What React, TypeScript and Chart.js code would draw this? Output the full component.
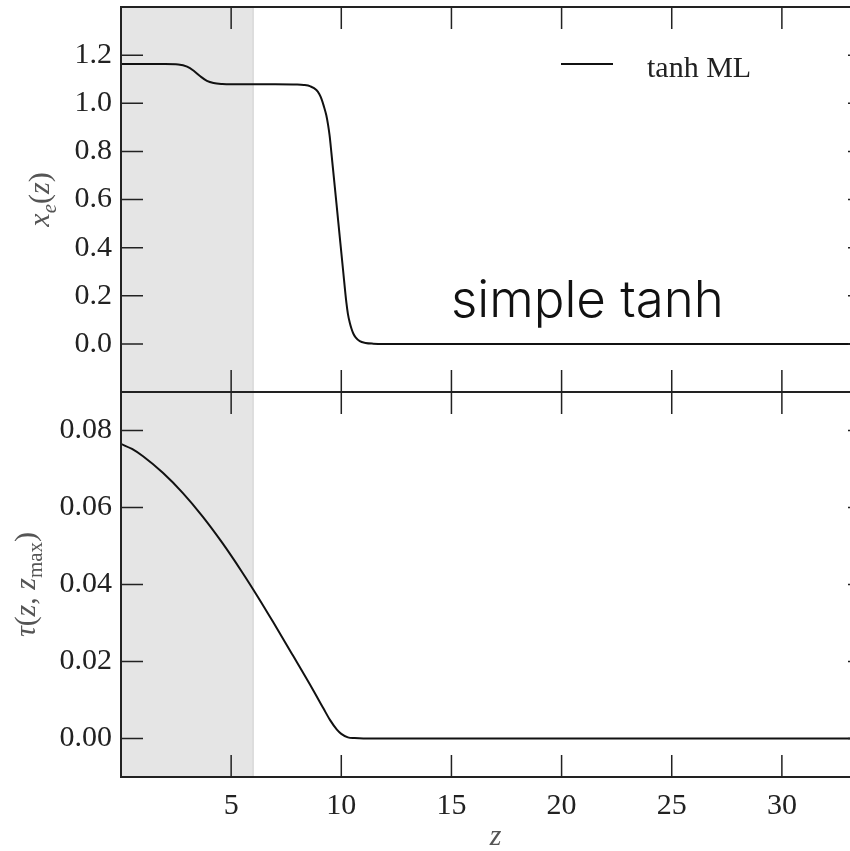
import React, { useEffect, useRef } from "react";
import { Chart, registerables } from "chart.js";

Chart.register(...registerables);

// ---- data ----
const zTop = [0, 1, 2, 2.6, 3.0, 3.3, 3.6, 3.9, 4.2, 4.6, 5, 6, 7, 8, 8.3, 8.6, 8.87, 9.0, 9.1, 9.2, 9.32, 9.4, 9.47, 9.55, 9.62, 9.78, 9.93, 10.08, 10.23, 10.3, 10.38, 10.46, 10.55, 10.65, 10.84, 11.1, 11.44, 12, 15, 20, 25, 30, 34];
const xeTop = [1.163, 1.163, 1.163, 1.161, 1.152, 1.135, 1.112, 1.093, 1.084, 1.08, 1.079, 1.079, 1.079, 1.078, 1.076, 1.07, 1.055, 1.038, 1.018, 0.99, 0.95, 0.91, 0.865, 0.795, 0.73, 0.584, 0.445, 0.307, 0.172, 0.125, 0.09, 0.064, 0.042, 0.027, 0.011, 0.004, 0.001, 0, 0, 0, 0, 0, 0];

const zTau = [0, 0.5, 1, 1.9, 2.8, 3.7, 4.6, 5.5, 6.2, 6.9, 7.8, 8.7, 9.2, 9.5, 9.8, 10.0, 10.3, 10.6, 11, 12, 15, 20, 25, 30, 34];
const tauVals = [0.0765, 0.0752, 0.0733, 0.069, 0.0638, 0.0577, 0.0508, 0.0432, 0.0369, 0.0303, 0.0216, 0.0128, 0.0077, 0.0047, 0.0023, 0.0012, 0.0003, 0.0001, 0, 0, 0, 0, 0, 0, 0];

const xTicks = [5, 10, 15, 20, 25, 30];
const yTopTicks = [0, 0.2, 0.4, 0.6, 0.8, 1.0, 1.2];
const yBotTicks = [0, 0.02, 0.04, 0.06, 0.08];
const shadeRange = [0, 6];
const seriesLabel = "tanh ML";
const annotation = "simple tanh";

const SERIF = '"Liberation Serif", "DejaVu Serif", serif';
const TICK_COLOR = "#222";
const TITLE_COLOR = "#555";

type Run = { t: string; it?: boolean; sub?: boolean };

function drawRuns(ctx: CanvasRenderingContext2D, runs: Run[], cx: number, cy: number, size: number, rotate: boolean) {
  const fontFor = (r: Run) => `${r.it ? "italic " : ""}${r.sub ? Math.round(size * 0.7) : size}px ${SERIF}`;
  const widths = runs.map((r) => {
    ctx.font = fontFor(r);
    return ctx.measureText(r.t).width;
  });
  const total = widths.reduce((a, b) => a + b, 0);
  ctx.save();
  ctx.translate(cx, cy);
  if (rotate) ctx.rotate(-Math.PI / 2);
  ctx.fillStyle = TITLE_COLOR;
  ctx.textBaseline = "alphabetic";
  ctx.textAlign = "left";
  let x = -total / 2;
  runs.forEach((r, i) => {
    ctx.font = fontFor(r);
    ctx.fillText(r.t, x, size * 0.3 + (r.sub ? size * 0.22 : 0));
    x += widths[i];
  });
  ctx.restore();
}

const framePlugin = {
  id: "framePlugin",
  beforeDatasetsDraw(chart: any) {
    const { ctx, chartArea } = chart;
    const xs = chart.scales.x;
    const x0 = xs.getPixelForValue(shadeRange[0]);
    const x1 = xs.getPixelForValue(shadeRange[1]);
    ctx.save();
    ctx.fillStyle = "#e5e5e5";
    ctx.fillRect(x0, chartArea.top, x1 - x0, chartArea.bottom - chartArea.top);
    ctx.strokeStyle = "#cfcfcf";
    ctx.lineWidth = 1;
    ctx.beginPath();
    ctx.moveTo(x1, chartArea.top);
    ctx.lineTo(x1, chartArea.bottom);
    ctx.stroke();
    ctx.restore();
  },
  afterDraw(chart: any) {
    const { ctx, chartArea } = chart;
    const xs = chart.scales.x;
    const panels = [
      { s: chart.scales.yTop, ticks: yTopTicks },
      { s: chart.scales.yBot, ticks: yBotTicks },
    ];
    const TL = 22;
    ctx.save();
    ctx.strokeStyle = "#222";
    panels.forEach((p) => {
      const top = p.s.top;
      const bottom = p.s.bottom;
      ctx.lineWidth = 1.5;
      ctx.beginPath();
      xTicks.forEach((v) => {
        const px = xs.getPixelForValue(v);
        ctx.moveTo(px, top);
        ctx.lineTo(px, top + TL);
        ctx.moveTo(px, bottom);
        ctx.lineTo(px, bottom - TL);
      });
      p.ticks.forEach((v) => {
        const py = p.s.getPixelForValue(v);
        ctx.moveTo(chartArea.left, py);
        ctx.lineTo(chartArea.left + TL, py);
        ctx.moveTo(chartArea.right, py);
        ctx.lineTo(chartArea.right - TL, py);
      });
      ctx.stroke();
      ctx.lineWidth = 2;
      ctx.strokeRect(chartArea.left, top, chartArea.right - chartArea.left, bottom - top);
    });
    ctx.restore();

    // axis titles
    drawRuns(ctx, [{ t: "x", it: true }, { t: "e", it: true, sub: true }, { t: "(" }, { t: "z", it: true }, { t: ")" }], 40, (chart.scales.yTop.top + chart.scales.yTop.bottom) / 2, 30, true);
    drawRuns(ctx, [{ t: "τ", it: true }, { t: "(" }, { t: "z", it: true }, { t: ", " }, { t: "z", it: true }, { t: "max", sub: true }, { t: ")" }], 26, (chart.scales.yBot.top + chart.scales.yBot.bottom) / 2, 30, true);
    drawRuns(ctx, [{ t: "z", it: true }], (chartArea.left + chartArea.right) / 2, 836, 30, false);

    // legend
    ctx.save();
    ctx.strokeStyle = "#111";
    ctx.lineWidth = 2;
    ctx.beginPath();
    ctx.moveTo(561, 64);
    ctx.lineTo(613, 64);
    ctx.stroke();
    ctx.fillStyle = "#222";
    ctx.font = `30px ${SERIF}`;
    ctx.textBaseline = "alphabetic";
    ctx.textAlign = "left";
    ctx.fillText(seriesLabel, 647, 77);

    // annotation
    ctx.font = '300 51px Inter, "Liberation Sans", sans-serif';
    ctx.fillStyle = "#111";
    ctx.fillText(annotation, 451, 317);
    ctx.restore();
  },
};

export default function App() {
  const ref = useRef<HTMLCanvasElement | null>(null);
  useEffect(() => {
    if (!ref.current) return;
    const tickFont = { family: SERIF, size: 30 };
    const yFit = (s: any) => {
      s.width = 121;
      s.paddingTop = 0;
      s.paddingBottom = 0;
    };
    const chart = new Chart(ref.current, {
      type: "line",
      data: {
        datasets: [
          {
            label: seriesLabel,
            data: zTop.map((z, i) => ({ x: z, y: xeTop[i] })),
            yAxisID: "yTop",
            borderColor: "#111",
            borderWidth: 2,
            pointRadius: 0,
            cubicInterpolationMode: "monotone",
            fill: false,
          },
          {
            label: "tau",
            data: zTau.map((z, i) => ({ x: z, y: tauVals[i] })),
            yAxisID: "yBot",
            borderColor: "#111",
            borderWidth: 2,
            pointRadius: 0,
            cubicInterpolationMode: "monotone",
            fill: false,
          },
        ],
      },
      options: {
        animation: false,
        responsive: false,
        layout: { padding: { top: 7, right: 10, left: 0, bottom: 0 } },
        plugins: { legend: { display: false }, tooltip: { enabled: false } },
        scales: {
          x: {
            type: "linear",
            min: 0,
            max: 34,
            position: "bottom",
            grid: { display: false, drawTicks: false },
            border: { display: false },
            ticks: { font: tickFont, color: TICK_COLOR, padding: 11, maxRotation: 0, autoSkip: false },
            afterBuildTicks: (s: any) => {
              s.ticks = xTicks.map((v) => ({ value: v }));
            },
            afterFit: (s: any) => {
              s.height = 74;
              s.paddingLeft = 0;
              s.paddingRight = 0;
            },
          },
          yBot: {
            type: "linear",
            position: "left",
            stack: "panels",
            stackWeight: 1,
            min: -0.01,
            max: 0.09,
            grid: { display: false, drawTicks: false },
            border: { display: false },
            ticks: { font: tickFont, color: TICK_COLOR, padding: 9, autoSkip: false, callback: (v: any) => Number(v).toFixed(2) },
            afterBuildTicks: (s: any) => {
              s.ticks = yBotTicks.map((v) => ({ value: v }));
            },
            afterFit: yFit,
          },
          yTop: {
            type: "linear",
            position: "left",
            stack: "panels",
            stackWeight: 1,
            min: -0.2,
            max: 1.4,
            grid: { display: false, drawTicks: false },
            border: { display: false },
            ticks: { font: tickFont, color: TICK_COLOR, padding: 9, autoSkip: false, callback: (v: any) => Number(v).toFixed(1) },
            afterBuildTicks: (s: any) => {
              s.ticks = yTopTicks.map((v) => ({ value: v }));
            },
            afterFit: yFit,
          },
        },
      } as any,
      plugins: [framePlugin],
    });
    return () => chart.destroy();
  }, []);
  return (
    <div style={{ position: "absolute", left: 0, top: 0, width: 850, height: 851, overflow: "hidden", background: "#fff" }}>
      <canvas ref={ref} width={880} height={851} style={{ display: "block", width: 880, height: 851 }} />
    </div>
  );
}
